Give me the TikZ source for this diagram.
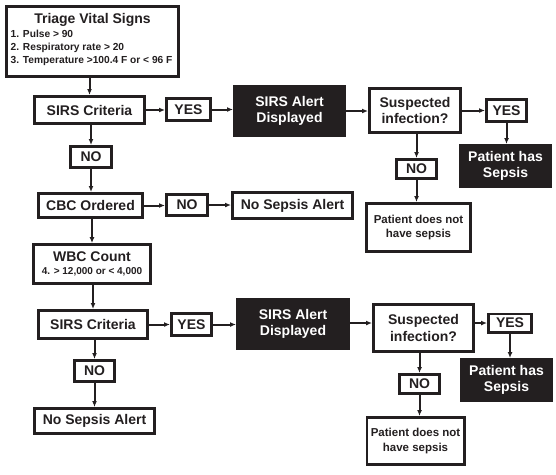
\documentclass[tikz,border=0pt]{standalone}
\usepackage{fontspec}
\setmainfont{Liberation Sans}
\usetikzlibrary{arrows.meta}
\definecolor{ink}{HTML}{231F20}
\begin{document}
\begin{tikzpicture}[x=1pt,y=-1pt,
  box/.style={draw=ink, line width=2.8pt, fill=white, text=ink, align=center, inner sep=0pt,
    font=\bfseries\fontsize{14}{16.5}\selectfont},
  blk/.style={box, fill=ink, text=white},
  small/.style={font=\bfseries\fontsize{11.5}{14.5}\selectfont},
  txt/.style={text=ink, inner sep=0pt},
  conn/.style={draw=ink, line width=2pt, -{Latex[length=6pt,width=5pt]}}]
\fill[white] (0,0) rectangle (556,474);
\useasboundingbox (0,0) rectangle (556,474);
\newcommand{\bx}[6]{\node[#1, minimum width=#4pt-2.8pt, minimum height=#5pt-2.8pt] (#2) at (#3) {#6};}
% top left column
\node[box, minimum width=172pt, minimum height=70pt] (triage) at (92.5,41.5) {};
\node[txt, font=\bfseries\fontsize{14}{16}\selectfont] (tt) at (92.5,20) {Triage Vital Signs};
\node[txt, anchor=west, font=\bfseries\fontsize{10.2}{12}\selectfont] (t1) at (10.5,34) {1. Pulse > 90};
\node[txt, anchor=west, font=\bfseries\fontsize{10.2}{12}\selectfont] (t2) at (10.5,47.5) {2. Respiratory rate > 20};
\node[txt, anchor=west, font=\bfseries\fontsize{10.2}{12}\selectfont] (t3) at (10.5,61) {3. Temperature >100.4 F or < 96 F};
\bx{box}{sirsA}{89.5,110}{113}{30}{SIRS Criteria}
\bx{box}{yesA}{188.5,109.5}{47}{25}{YES}
\bx{blk}{alertA}{289.5,111}{113}{52}{SIRS Alert\\Displayed}
\bx{box}{suspA}{415,110.5}{94}{47}{Suspected\\infection?}
\bx{box}{yesB}{506.5,110.5}{43}{25}{YES}
\bx{blk}{hasA}{505.5,166}{93}{44}{Patient has\\Sepsis}
\bx{box}{noR1}{416.5,169}{43}{22}{NO}
\bx{box,small}{notA}{418.5,227.5}{107}{51}{Patient does not\\have sepsis}
\bx{box}{noA}{91,157}{44}{24}{NO}
\bx{box}{cbc}{90.5,205.5}{107}{27}{CBC Ordered}
\bx{box}{noB}{187,205}{44}{24}{NO}
\bx{box}{nsaA}{292.5,205.5}{123}{29}{No Sepsis Alert}
\node[box, minimum width=117pt, minimum height=39pt] (wbc) at (92,264) {};
\node[txt, font=\bfseries\fontsize{14}{16}\selectfont] (wt) at (92,256.5) {WBC Count};
\node[txt, font=\bfseries\fontsize{10}{12}\selectfont] (w1) at (92,272) {4. > 12,000 or < 4,000};
% second row
\bx{box}{sirsB}{93,324.5}{112}{31}{SIRS Criteria}
\bx{box}{yesC}{191.5,324.5}{43}{25}{YES}
\bx{blk}{alertB}{293,324}{114}{52}{SIRS Alert\\Displayed}
\bx{box}{suspB}{423.5,328}{103}{50}{Suspected\\infection?}
\bx{box}{yesD}{510,323}{46}{21}{YES}
\bx{blk}{hasB}{506.5,380}{93}{44}{Patient has\\Sepsis}
\bx{box}{noR2}{419.5,384}{43}{22}{NO}
\bx{box,small}{notB}{415.5,441}{100}{50}{Patient does not\\have sepsis}
\bx{box}{noC}{94.5,371}{43}{24}{NO}
\bx{box}{nsaB}{94.5,421}{123}{28}{No Sepsis Alert}
% connectors
\draw[conn] (triage.south -| sirsA) -- (sirsA.north);
\draw[conn] (sirsA.east) -- (sirsA.east -| yesA.west);
\draw[conn] (yesA.east) -- (yesA.east -| alertA.west);
\draw[conn] (alertA.east) -- (alertA.east -| suspA.west);
\draw[conn] (suspA.east) -- (suspA.east -| yesB.west);
\draw[conn] (yesB.south) -- (yesB.south |- hasA.north);
\draw[conn] (suspA.south -| noR1) -- (noR1.north);
\draw[conn] (noR1.south) -- (noR1.south |- notA.north);
\draw[conn] (sirsA.south -| noA) -- (noA.north);
\draw[conn] (noA.south) -- (noA.south |- cbc.north);
\draw[conn] (cbc.east) -- (cbc.east -| noB.west);
\draw[conn] (noB.east) -- (noB.east -| nsaA.west);
\draw[conn] (cbc.south -| wbc) -- (wbc.north);
\draw[conn] (wbc.south -| sirsB) -- (sirsB.north);
\draw[conn] (sirsB.east) -- (sirsB.east -| yesC.west);
\draw[conn] (yesC.east) -- (yesC.east -| alertB.west);
\draw[conn] (alertB.east |- yesD) -- (yesD -| suspB.west);
\draw[conn] (suspB.east |- yesD) -- (yesD.west);
\draw[conn] (yesD.south) -- (yesD.south |- hasB.north);
\draw[conn] (suspB.south -| noR2) -- (noR2.north);
\draw[conn] (noR2.south) -- (noR2.south |- notB.north);
\draw[conn] (sirsB.south -| noC) -- (noC.north);
\draw[conn] (noC.south) -- (noC.south |- nsaB.north);
\end{tikzpicture}
\end{document}
